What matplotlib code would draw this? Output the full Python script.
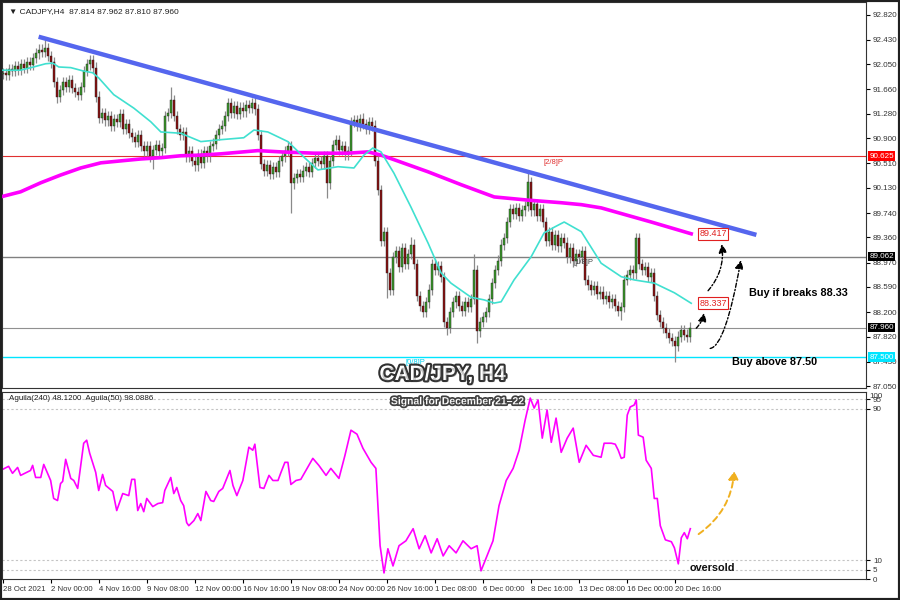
import numpy as np
import matplotlib
matplotlib.use("Agg")
import matplotlib.pyplot as plt
import matplotlib.patheffects as pe
from matplotlib.patches import Rectangle

# CADJPY H4 closes, one per bar (bar 0 = 28 Oct 2021)
closes = [
    91.92, 91.88, 91.98, 91.95, 92.02, 91.96, 92.05, 92.00, 92.08, 92.04,
    92.15, 92.22, 92.28, 92.24, 92.30, 92.18, 92.08, 91.78, 91.55, 91.65,
    91.78, 91.70, 91.80, 91.68, 91.62, 91.58, 91.70, 91.95, 92.05, 92.12,
    92.00, 91.55, 91.22, 91.30, 91.18, 91.25, 91.10, 91.20, 91.15, 91.28,
    91.05, 91.12, 90.98, 90.92, 90.85, 90.95, 90.78, 90.70, 90.78, 90.62,
    90.72, 90.80, 90.70, 90.75, 91.25, 91.30, 91.50, 91.25, 91.05, 90.95,
    91.00, 90.62, 90.70, 90.55, 90.48, 90.65, 90.52, 90.70, 90.62, 90.78,
    90.82, 90.95, 91.05, 91.10, 91.25, 91.45, 91.30, 91.40, 91.28, 91.38,
    91.32, 91.42, 91.38, 91.45, 91.35, 90.95, 90.50, 90.40, 90.48, 90.35,
    90.45, 90.38, 90.55, 90.62, 90.70, 90.78, 90.20, 90.28, 90.35, 90.30,
    90.40, 90.45, 90.38, 90.52, 90.60, 90.55, 90.50, 90.62, 90.20, 90.55,
    90.80, 90.88, 90.72, 90.78, 90.65, 90.70, 91.15, 91.18, 91.10, 91.20,
    91.12, 91.05, 91.15, 91.10, 90.55, 90.10, 89.30, 89.45, 88.80, 88.55,
    89.05, 89.15, 88.90, 89.20, 88.95, 89.10, 89.25, 88.95, 88.45, 88.30,
    88.20, 88.35, 88.55, 88.95, 88.85, 88.92, 88.75, 88.05, 87.95, 88.20,
    88.35, 88.45, 88.30, 88.22, 88.35, 88.28, 88.40, 88.85, 87.90, 88.05,
    88.12, 88.20, 88.40, 88.65, 88.85, 89.00, 89.25, 89.35, 89.60, 89.80,
    89.72, 89.82, 89.70, 89.78, 89.85, 90.22, 89.78, 89.88, 89.70, 89.80,
    89.60, 89.30, 89.45, 89.25, 89.40, 89.22, 89.35, 89.28, 89.05, 89.20,
    89.00, 89.10, 89.05, 89.15, 88.70, 88.62, 88.55, 88.60, 88.48, 88.52,
    88.40, 88.45, 88.35, 88.40, 88.30, 88.22, 88.28, 88.70, 88.78, 88.85,
    88.80, 89.35, 88.95, 88.85, 88.90, 88.75, 88.80, 88.45, 88.15, 88.05,
    87.95, 87.88, 87.80, 87.75, 87.68, 87.82, 87.92, 87.85, 87.81, 87.96,
]
first_open = 91.90
wick = 0.08
# long wicks that stand out on the chart
high_marks = {14: 92.48, 29: 92.20, 56: 91.70, 84: 91.58, 120: 91.30, 136: 89.37,
              157: 89.10, 175: 90.36, 211: 89.43}
low_marks = {18: 91.45, 50: 90.42, 96: 89.74, 108: 89.97, 128: 88.42, 148: 87.85,
             158: 87.72, 190: 88.90, 206: 88.08, 224: 87.42}

# moving averages (bar index, price)
ma_fast_x = [-0.7, 6, 10.3, 14.3, 16.7, 18.7, 22.7, 26.7, 30, 32, 37, 43.7, 49.3, 52.7,
             59.3, 66, 72.7, 80.3, 83.7, 88.3, 95, 100.3, 105, 111.7, 117, 120.3, 123.3,
             126, 130.3, 136, 141.7, 146, 149.3, 156, 160.3, 163.7, 166, 170.3, 176,
             180.3, 183.7, 187, 192.7, 199.3, 206, 210.3, 217, 223.7, 229.3]
ma_fast_y = [91.96, 91.96, 92.01, 92.06, 92.07, 92.01, 92.00, 91.95, 91.92, 91.84, 91.58,
             91.37, 91.16, 91.00, 90.98, 90.85, 90.88, 90.91, 91.03, 91.00, 90.85, 90.61,
             90.41, 90.46, 90.44, 90.64, 90.75, 90.69, 90.36, 89.83, 89.27, 88.81, 88.65,
             88.43, 88.39, 88.34, 88.36, 88.70, 89.06, 89.43, 89.52, 89.60, 89.45, 88.96,
             88.75, 88.70, 88.65, 88.50, 88.337]
ma_slow_x = [-0.7, 6, 12.7, 19.3, 26, 32.7, 39.3, 46, 52.7, 59.3, 66, 72.7, 85, 92.7,
             103.7, 115, 121.7, 126, 130.3, 141.7, 152.7, 163.7, 175, 186, 192.7, 199.3,
             216, 229.3]
ma_slow_y = [89.99, 90.07, 90.21, 90.33, 90.44, 90.52, 90.55, 90.58, 90.60, 90.63, 90.64,
             90.66, 90.71, 90.69, 90.67, 90.67, 90.69, 90.64, 90.57, 90.38, 90.18, 89.99,
             89.94, 89.90, 89.87, 89.82, 89.60, 89.417]

trend_x = [12, 251]
trend_y = [92.48, 89.40]

# oscillator Aguila (bar index, value)
osc_x = [-0.7, 2, 3.3, 5, 6, 9.3, 10, 11, 12.7, 13.7, 16, 17, 18.3, 19.3, 20, 21, 22.7,
         23.7, 25, 27, 28, 29, 31, 32, 33.3, 34.3, 36.7, 38, 40, 42, 43, 44, 45, 46, 47,
         48, 50, 51.7, 53.3, 54, 56, 57, 58, 59.3, 60.3, 61.3, 62, 63.7, 65, 66, 67.7,
         69.3, 70.3, 72, 73.3, 75.7, 76.7, 78, 80, 82, 83.3, 84, 85.7, 87, 88.7, 90, 91.7,
         92.7, 94, 95, 96, 97.7, 99.3, 101, 103.3, 105.3, 107.7, 109.3, 112, 114, 116,
         118, 120, 122.7, 124.3, 125.7, 127, 128.3, 130, 132, 134.3, 136.7, 138.7, 140.7,
         142.7, 144.7, 146.7, 148.7, 151, 153.3, 156, 158, 159.3, 161.3, 163.3, 165.3,
         167.7, 170, 172, 174, 175.7, 177, 178.3, 179.7, 181.3, 182.7, 184.3, 186, 188,
         190, 192, 194.3, 196.7, 199.3, 200.3, 202.7, 204, 205, 206, 207, 208, 209,
         210.3, 211, 211.7, 213.3, 214.3, 216, 217, 218, 219, 220.7, 222.7, 223.7, 225,
         226, 227, 228, 229]
osc_y = [57.4, 59.6, 55.9, 59.0, 54.8, 57.4, 60.1, 53.7, 53.7, 60.6, 52.1, 42.6, 41.5,
         50.5, 51.6, 63.3, 53.2, 52.1, 47.9, 71.8, 73.4, 66.5, 56.4, 46.8, 55.3, 49.5,
         46.3, 36.2, 45.2, 44.1, 52.7, 52.7, 36.2, 39.9, 35.6, 42.6, 38.3, 39.9, 40.4,
         46.8, 53.7, 45.2, 48.4, 41.5, 38.8, 29.8, 28.2, 30.9, 34.6, 30.9, 46.3, 41.5,
         41.0, 46.3, 47.9, 57.4, 49.5, 44.1, 52.1, 69.7, 68.1, 71.3, 48.4, 47.9, 54.8,
         52.1, 52.1, 56.4, 61.7, 61.7, 50.0, 52.1, 52.7, 57.4, 63.8, 60.1, 54.8, 58.5,
         53.2, 65.4, 78.7, 76.6, 69.1, 61.7, 58.5, 17.6, 3.2, 16.0, 6.9, 17.6, 20.2,
         26.6, 16.0, 22.9, 13.8, 21.3, 12.2, 17.6, 13.8, 20.2, 16.0, 17.6, 4.3, 12.2,
         20.2, 38.8, 52.1, 58.5, 68.1, 84.0, 95.7, 90.4, 94.7, 74.5, 89.4, 72.3, 85.1,
         67.0, 74.5, 79.8, 61.7, 70.7, 65.4, 64.4, 71.8, 71.8, 71.3, 68.1, 63.8, 64.4,
         86.7, 91.0, 92.0, 94.7, 76.1, 75.0, 62.8, 58.5, 42.6, 42.6, 28.2, 20.7, 19.7,
         16.5, 8.0, 21.8, 24.5, 21.3, 26.6]

price_ticks = [92.820, 92.430, 92.050, 91.660, 91.280, 90.900, 90.510, 90.130, 89.740,
               89.360, 88.970, 88.590, 88.200, 87.820, 87.430, 87.050]
tick_bars = [0, 16, 32, 48, 64, 80, 96, 112, 128, 144, 160, 176, 192, 208, 224]
tick_labels = ["28 Oct 2021", "2 Nov 00:00", "4 Nov 16:00", "9 Nov 08:00", "12 Nov 00:00",
               "16 Nov 16:00", "19 Nov 08:00", "24 Nov 00:00", "26 Nov 16:00",
               "1 Dec 08:00", "6 Dec 00:00", "8 Dec 16:00", "13 Dec 08:00",
               "16 Dec 00:00", "20 Dec 16:00"]

n = len(closes)
x = np.arange(n)
opens = [first_open] + closes[:-1]
highs = [high_marks.get(i, max(o, c) + wick) for i, (o, c) in enumerate(zip(opens, closes))]
lows = [low_marks.get(i, min(o, c) - wick) for i, (o, c) in enumerate(zip(opens, closes))]

small = ["Liberation Sans", "DejaVu Sans"]
fig = plt.figure(figsize=(9, 6), dpi=100)
ax = fig.add_axes([2 / 900, 212 / 600, 864 / 900, 386 / 600])
ax2 = fig.add_axes([2 / 900, 21 / 600, 864 / 900, 187 / 600])

ax.set_xlim(-0.2, 287.5)
ax.set_ylim(87.02, 93.02)

ax.vlines(x, lows, highs, color="#8a8a8a", lw=0.9, zorder=2)
body = np.array(closes) - np.array(opens)
cols = ["#3a9a2a" if b >= 0 else "#8b1010" for b in body]
body = np.where(np.abs(body) < 0.01, 0.01, body)
ax.bar(x, body, bottom=opens, width=0.66, color=cols, edgecolor="#222222", lw=0.3, zorder=3)

ax.plot(ma_slow_x, ma_slow_y, color="#ff00ff", lw=2.6, zorder=4)
ax.plot(ma_fast_x, ma_fast_y, color="#40e0d0", lw=1.2, zorder=4)
ax.plot(trend_x, trend_y, color="#5566ee", lw=3.2, solid_capstyle="butt", zorder=5)

# levels
ax.axhline(90.625, color="#e03030", lw=0.8, zorder=1)
ax.axhline(89.062, color="#808080", lw=1.0, zorder=1)
ax.axhline(87.960, color="#909090", lw=0.8, zorder=1)
ax.axhline(87.500, color="#00e5ff", lw=1.0, zorder=1)
ax.text(180, 90.58, "[2/8]P", color="#e03030", fontsize=5.5, va="top", family=small)
ax.text(190, 89.02, "[1/8]P", color="#404040", fontsize=5.5, va="top", family=small)
ax.text(134, 87.47, "[0/8]P", color="#00d0ee", fontsize=5.5, va="top", family=small)

tr = ax.get_yaxis_transform()
for val, fc, tc in [(90.625, "#ff0000", "white"), (89.062, "black", "white"),
                    (87.960, "black", "white"), (87.500, "#00e5ff", "white")]:
    ax.text(1.004, val, f"{val:.3f}", transform=tr, fontsize=5.8, color=tc, va="center",
            ha="left", zorder=10, clip_on=False, family=small,
            bbox=dict(boxstyle="square,pad=0.15", fc=fc, ec="none"))

for val in [89.417, 88.337]:
    ax.text(232, val, f"{val:.3f}", fontsize=6.5, color="#e02020", va="center", ha="left",
            zorder=6, family=small,
            bbox=dict(boxstyle="square,pad=0.15", fc="white", ec="#e02020", lw=0.8))

arrow_kw = dict(arrowstyle="-|>,head_length=0.5,head_width=0.25", color="black", lw=1.0,
                linestyle=(0, (3, 1.5, 1, 1.5)))
ax.annotate("", xy=(233.7, 88.23), xytext=(230.3, 87.92),
            arrowprops=dict(connectionstyle="arc3,rad=0.2", **arrow_kw))
ax.annotate("", xy=(239.3, 89.30), xytext=(234.3, 88.50),
            arrowprops=dict(connectionstyle="arc3,rad=0.25", **arrow_kw))
ax.annotate("", xy=(246, 89.05), xytext=(234.7, 87.64),
            arrowprops=dict(connectionstyle="angle3,angleA=-20,angleB=80", **arrow_kw))

bold = dict(family=small, fontweight="bold")
ax.text(248.7, 88.45, "Buy if breaks 88.33", fontsize=7.8, color="black", **bold)
ax.text(243, 87.42, "Buy above 87.50", fontsize=7.8, color="black", va="center", **bold)
ax.text(0.51, 0.035, "CAD/JPY, H4", transform=ax.transAxes, fontsize=15, color="white",
        ha="center", va="center",
        path_effects=[pe.withStroke(linewidth=3, foreground="#303030"),
                      pe.SimplePatchShadow(offset=(1.5, -1.5))], **bold)
ax.text(0.008, 0.985, "\u25bc CADJPY,H4  87.814 87.962 87.810 87.960", transform=ax.transAxes,
        fontsize=6, va="top", family=small, color="#202020")

ax.yaxis.tick_right()
ax.set_yticks(price_ticks)
ax.set_yticklabels([f"{p:.3f}" for p in price_ticks], family=small)
ax.tick_params(axis="y", labelsize=5.8, length=3, pad=2, labelcolor="#333333")
ax.tick_params(axis="x", bottom=False, labelbottom=False)
for s in ax.spines.values():
    s.set_color("#333333")
    s.set_linewidth(0.8)

# oscillator panel
ax2.set_xlim(-0.2, 287.5)
ax2.set_ylim(0, 98.9)
for lvl in [95, 90, 10, 5]:
    ax2.axhline(lvl, color="#c4c4c4", lw=0.8, ls=(0, (2, 2)))
ax2.plot(osc_x, osc_y, color="#ff00ff", lw=1.2)
ax2.text(0.008, 0.985, "Aguila(240) 48.1200  Aguila(50) 98.0886", transform=ax2.transAxes,
         fontsize=5.8, va="top", family=small, color="#202020")
ax2.text(0.527, 0.95, "Signal for December 21\u201322", transform=ax2.transAxes, fontsize=7.5,
         color="white", ha="center", va="center",
         path_effects=[pe.withStroke(linewidth=2.5, foreground="#404040"),
                       pe.SimplePatchShadow(offset=(1, -1))], **bold)
ax2.text(228.7, 6, "oversold", fontsize=7.8, color="#101010", va="center", **bold)
ax2.annotate("", xy=(243.7, 58.5), xytext=(231, 22.9),
             arrowprops=dict(arrowstyle="-|>,head_length=0.5,head_width=0.3", color="#f0b020",
                             lw=1.4, linestyle=(0, (3, 2)), connectionstyle="arc3,rad=0.25"))

ax2.yaxis.tick_right()
ax2.set_yticks([0, 5, 10, 90, 95])
ax2.set_yticklabels(["0", "5", "10", "90", "95"], family=small)
ax2.tick_params(axis="y", labelsize=5.8, length=3, pad=2, labelcolor="#333333")
ax2.text(1.004, 0.995, "100", transform=ax2.transAxes, fontsize=5.8, color="#333333",
         va="top", ha="left", family=small)
ax2.set_xticks(tick_bars)
ax2.set_xticklabels(tick_labels, family=small)
ax2.tick_params(axis="x", labelsize=5.6, length=3, pad=2, labelcolor="#333333", direction="out")
for lab in ax2.get_xticklabels():
    lab.set_ha("left")
for s in ax2.spines.values():
    s.set_color("#333333")
    s.set_linewidth(0.8)

fig.patches.append(Rectangle((0, 0), 1, 1, transform=fig.transFigure, fill=False,
                             ec="#202020", lw=3))
fig.savefig("out.png", dpi=100, facecolor="white")
